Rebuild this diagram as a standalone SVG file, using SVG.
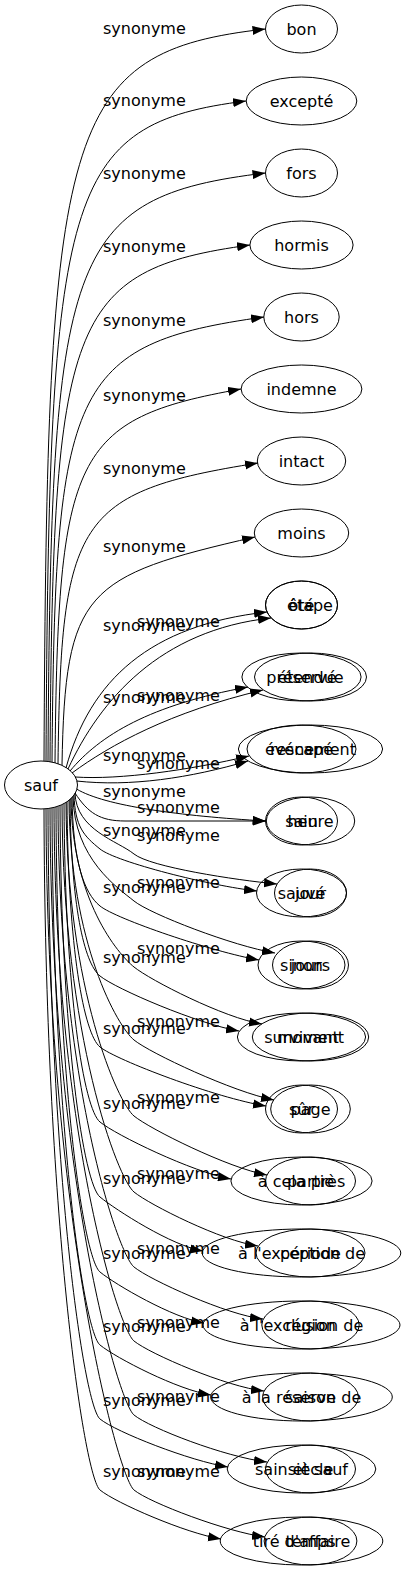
<svg xmlns="http://www.w3.org/2000/svg" width="405" height="1571" viewBox="0 0 405 1571">
<style>
text{font-family:"DejaVu Sans",sans-serif;font-size:16px;fill:#000;text-anchor:middle}
ellipse{fill:none;stroke:#000;stroke-width:1}
#edges path{fill:none;stroke:#000;stroke-width:1;marker-end:url(#ah)}
</style>
<defs>
<marker id="ah" viewBox="0 0 10 7" refX="10" refY="3.5" markerWidth="13" markerHeight="9.4" markerUnits="userSpaceOnUse" orient="auto"><path d="M0,0L10,3.5L0,7z" fill="#000"/></marker>
</defs>
<rect width="405" height="1571" fill="#fff"/>
<g id="edges">
<path d="M44,761 C47,123 62,52 265.5,29"/>
<path d="M46,761 C49,188 64,124 246,101"/>
<path d="M48,761.5 C51,253 66,197 265.5,173"/>
<path d="M50,762 C53,319 68,270 250,245"/>
<path d="M52,762 C55,386 70,344 264,317"/>
<path d="M55,763 C58,453 73,419 241,389"/>
<path d="M58,764 C61,519 76,492 258,463"/>
<path d="M62,765.5 C65,590 85,576 255,537"/>
<path d="M66,768 C90,680 150,625 267,612"/>
<path d="M68,769 C100,700 160,630 271,618"/>
<path d="M70,771 C100,735 150,705 248,687"/>
<path d="M72,773 C110,745 170,712 263,690"/>
<path d="M75,777 C120,780 190,770 249,756"/>
<path d="M76.5,781 C130,787 190,778 248,761"/>
<path d="M76.5,789 C105,806 180,816 265.5,821"/>
<path d="M75,793 C88,813 100,821 125,821 L266,821"/>
<path d="M74,794.6 C75,827 84,836 100,849 C116,862 211,886 257,891"/>
<path d="M75,793 C76,830 118,841 134,854 C150,867 235,880 277,884"/>
<path d="M72,797 C73,862 84,893 100,906 C116,919 213,952 259,960"/>
<path d="M73,796 C74,859 118,888 134,901 C150,914 233,946 275,953"/>
<path d="M70,799 C71,905 84,963 100,976 C116,989 198,1024 239,1031"/>
<path d="M71,798 C72,900 118,954 134,967 C150,980 224,1018 262,1024"/>
<path d="M67,801.6 C68,949 84,1034 100,1047 C116,1060 216,1098 266,1106"/>
<path d="M69,800 C70,944 118,1027 134,1040 C150,1053 233,1092 274,1100"/>
<path d="M64,803.5 C65,995 84,1109 100,1122 C116,1135 192,1172 231,1179"/>
<path d="M66,802.3 C67,990 118,1103 134,1116 C150,1129 228,1168 267,1175"/>
<path d="M60,805.4 C61,1040 84,1184 100,1197 C116,1210 172,1246 203,1251"/>
<path d="M62,804.5 C63,1037 118,1179 134,1192 C150,1205 222,1241 258,1246"/>
<path d="M56,806.8 C57,1086 84,1259 100,1272 C116,1285 173,1318 204,1323"/>
<path d="M58,806.2 C59,1083 118,1254 134,1267 C150,1280 227,1315 263,1319"/>
<path d="M52,808 C53,1130 84,1332 100,1345 C116,1358 178,1390 211,1395"/>
<path d="M54,807.4 C55,1128 118,1328 134,1341 C150,1354 227,1387 264,1391"/>
<path d="M48,808.5 C49,1175 84,1406 100,1419 C116,1432 190,1461 228,1467"/>
<path d="M50,808.2 C51,1172 118,1402 134,1415 C150,1428 225,1457 267,1462"/>
<path d="M44,809 C45,1218 84,1477 100,1490 C116,1503 185,1533 221,1539"/>
<path d="M46,808.8 C47,1217 118,1477 134,1490 C150,1503 227,1532 265,1537"/>
<g id="edge-labels">
<text x="144.4" y="34">synonyme</text>
<text x="144.4" y="106">synonyme</text>
<text x="144.4" y="179">synonyme</text>
<text x="144.4" y="252">synonyme</text>
<text x="144.4" y="326">synonyme</text>
<text x="144.4" y="401">synonyme</text>
<text x="144.4" y="474">synonyme</text>
<text x="144.4" y="552">synonyme</text>
<text x="144.4" y="631">synonyme</text>
<text x="144.4" y="703">synonyme</text>
<text x="144.4" y="761">synonyme</text>
<text x="144.4" y="797">synonyme</text>
<text x="144.4" y="836">synonyme</text>
<text x="144.4" y="893">synonyme</text>
<text x="144.4" y="963">synonyme</text>
<text x="144.4" y="1034">synonyme</text>
<text x="144.4" y="1109">synonyme</text>
<text x="144.4" y="1184">synonyme</text>
<text x="144.4" y="1259">synonyme</text>
<text x="144.4" y="1332">synonyme</text>
<text x="144.4" y="1406">synonyme</text>
<text x="144.4" y="1477">synonyme</text>
<text x="178.5" y="627">synonyme</text>
<text x="178.5" y="701">synonyme</text>
<text x="178.5" y="769">synonyme</text>
<text x="178.5" y="813">synonyme</text>
<text x="178.5" y="841">synonyme</text>
<text x="178.5" y="888">synonyme</text>
<text x="178.5" y="954">synonyme</text>
<text x="178.5" y="1027">synonyme</text>
<text x="178.5" y="1103">synonyme</text>
<text x="178.5" y="1179">synonyme</text>
<text x="178.5" y="1254">synonyme</text>
<text x="178.5" y="1328">synonyme</text>
<text x="178.5" y="1402">synonyme</text>
<text x="178.5" y="1477">synonyme</text>
</g>
</g>
<g id="n-sauf"><ellipse cx="41" cy="785" rx="36.5" ry="24"/><text x="41" y="790.5">sauf</text></g>
<g id="n-bon"><ellipse cx="301.5" cy="29" rx="36" ry="24"/><text x="301.5" y="34.5">bon</text></g>
<g id="n-excepte"><ellipse cx="301.5" cy="101" rx="55.3" ry="24"/><text x="301.5" y="106.5">excepté</text></g>
<g id="n-fors"><ellipse cx="301.5" cy="173" rx="36" ry="24"/><text x="301.5" y="178.5">fors</text></g>
<g id="n-hormis"><ellipse cx="301.5" cy="245" rx="51.6" ry="24"/><text x="301.5" y="250.5">hormis</text></g>
<g id="n-hors"><ellipse cx="301.5" cy="317" rx="37.7" ry="24"/><text x="301.5" y="322.5">hors</text></g>
<g id="n-indemne"><ellipse cx="301.5" cy="389" rx="60.4" ry="24"/><text x="301.5" y="394.5">indemne</text></g>
<g id="n-intact"><ellipse cx="301.5" cy="461" rx="44.2" ry="24"/><text x="301.5" y="466.5">intact</text></g>
<g id="n-moins"><ellipse cx="301.5" cy="533" rx="47.2" ry="24"/><text x="301.5" y="538.5">moins</text></g>
<g id="n-ote"><ellipse cx="301.5" cy="605" rx="36" ry="24"/><text x="301.5" y="610.5">ôté</text></g>
<g id="n-etape"><ellipse cx="301.5" cy="605" rx="36" ry="24"/><text x="310" y="610.5">étape</text></g>
<g id="n-preserve"><ellipse cx="301.5" cy="677" rx="59.6" ry="24"/><text x="301.5" y="682.5">préservé</text></g>
<g id="n-etendue"><ellipse cx="310.5" cy="677" rx="56" ry="24"/><text x="310.5" y="682.5">étendue</text></g>
<g id="n-rescape"><ellipse cx="301.5" cy="749" rx="54.5" ry="24"/><text x="301.5" y="754.5">rescapé</text></g>
<g id="n-evenement"><ellipse cx="310.5" cy="749" rx="72.1" ry="24"/><text x="310.5" y="754.5">événement</text></g>
<g id="n-sain"><ellipse cx="301.5" cy="821" rx="36" ry="24"/><text x="301.5" y="826.5">sain</text></g>
<g id="n-heure"><ellipse cx="310.5" cy="821" rx="44.2" ry="24"/><text x="310.5" y="826.5">heure</text></g>
<g id="n-sauve"><ellipse cx="301.5" cy="893" rx="45" ry="24"/><text x="301.5" y="898.5">sauvé</text></g>
<g id="n-jour"><ellipse cx="310.5" cy="893" rx="36" ry="24"/><text x="310.5" y="898.5">jour</text></g>
<g id="n-sinon"><ellipse cx="301.5" cy="965" rx="43.5" ry="24"/><text x="301.5" y="970.5">sinon</text></g>
<g id="n-jours"><ellipse cx="310.5" cy="965" rx="38" ry="24"/><text x="310.5" y="970.5">jours</text></g>
<g id="n-survivant"><ellipse cx="301.5" cy="1037" rx="64.1" ry="24"/><text x="301.5" y="1042.5">survivant</text></g>
<g id="n-moment"><ellipse cx="310.5" cy="1037" rx="58.2" ry="24"/><text x="310.5" y="1042.5">moment</text></g>
<g id="n-sur"><ellipse cx="301.5" cy="1109" rx="36" ry="24"/><text x="301.5" y="1114.5">sûr</text></g>
<g id="n-page"><ellipse cx="310.5" cy="1109" rx="39.8" ry="24"/><text x="310.5" y="1114.5">page</text></g>
<g id="n-a-cela-pres"><ellipse cx="301.5" cy="1181" rx="70.6" ry="24"/><text x="301.5" y="1186.5">à cela près</text></g>
<g id="n-partie"><ellipse cx="310.5" cy="1181" rx="45" ry="24"/><text x="310.5" y="1186.5">partie</text></g>
<g id="n-a-l-exception-de"><ellipse cx="301.5" cy="1253" rx="99.3" ry="24"/><text x="301.5" y="1258.5">à l'exception de</text></g>
<g id="n-periode"><ellipse cx="310.5" cy="1253" rx="54.5" ry="24"/><text x="310.5" y="1258.5">période</text></g>
<g id="n-a-l-exclusion-de"><ellipse cx="301.5" cy="1325" rx="98.5" ry="24"/><text x="301.5" y="1330.5">à l'exclusion de</text></g>
<g id="n-region"><ellipse cx="310.5" cy="1325" rx="48.7" ry="24"/><text x="310.5" y="1330.5">région</text></g>
<g id="n-a-la-reserve-de"><ellipse cx="301.5" cy="1397" rx="90.8" ry="24"/><text x="301.5" y="1402.5">à la réserve de</text></g>
<g id="n-saison"><ellipse cx="310.5" cy="1397" rx="47.9" ry="24"/><text x="310.5" y="1402.5">saison</text></g>
<g id="n-sain-et-sauf"><ellipse cx="301.5" cy="1469" rx="74.3" ry="24"/><text x="301.5" y="1474.5">sain et sauf</text></g>
<g id="n-siecle"><ellipse cx="310.5" cy="1469" rx="45" ry="24"/><text x="310.5" y="1474.5">siècle</text></g>
<g id="n-tire-d-affaire"><ellipse cx="301.5" cy="1541" rx="81.3" ry="24"/><text x="301.5" y="1546.5">tiré d'affaire</text></g>
<g id="n-temps"><ellipse cx="310.5" cy="1541" rx="46.4" ry="24"/><text x="310.5" y="1546.5">temps</text></g>
</svg>
